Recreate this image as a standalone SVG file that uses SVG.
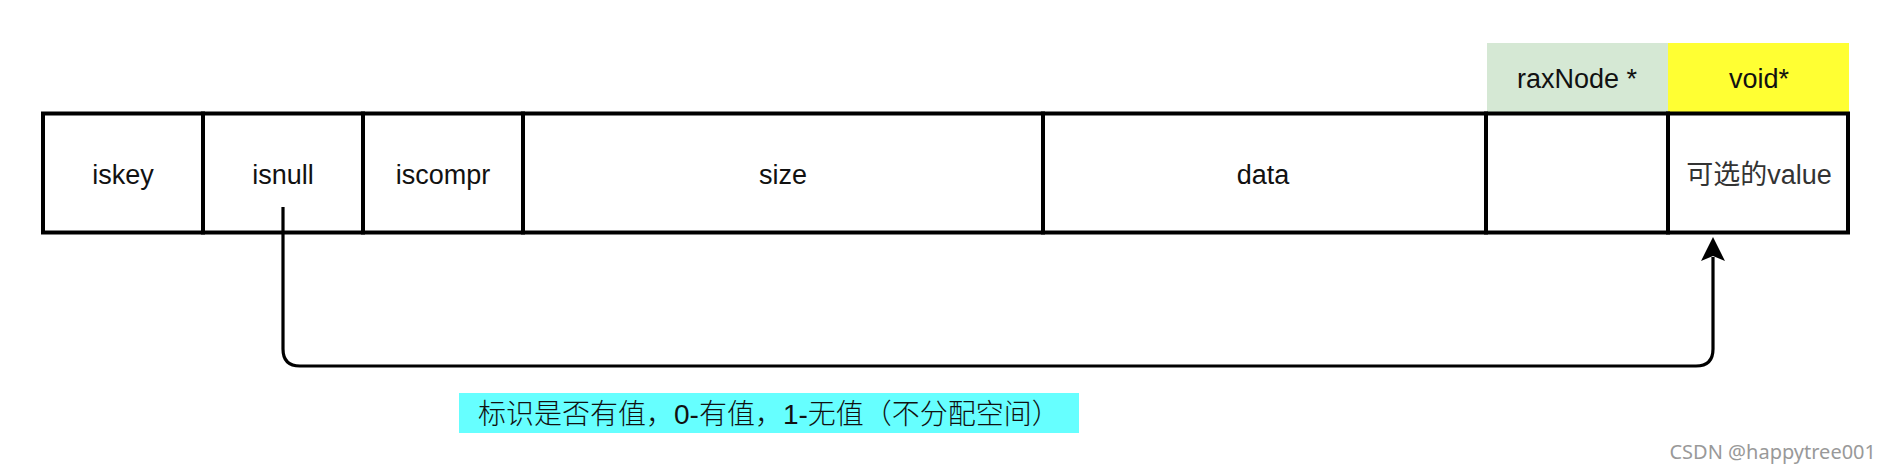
<svg xmlns="http://www.w3.org/2000/svg" width="1890" height="474" viewBox="0 0 1890 474">
  <style>
    .cell { fill: #ffffff; stroke: #000000; stroke-width: 4; }
    .lbl { font-family: "Liberation Sans", "Noto Sans CJK SC", sans-serif; font-size: 27px; fill: #111111; text-anchor: middle; }
    .conn { fill: none; stroke: #000000; stroke-width: 3.2; }
  </style>
  <defs>
    <marker id="arrow" viewBox="0 0 24 24" refX="4" refY="12" markerWidth="24" markerHeight="24" markerUnits="userSpaceOnUse" orient="auto">
      <path d="M0,0 L24,12 L0,24 L5,12 Z" fill="#000000"/>
    </marker>
  </defs>
  <rect x="0" y="0" width="1890" height="474" fill="#ffffff"/>

  <g id="header-raxnode">
    <rect x="1487" y="43" width="181" height="70" fill="#d5e8d4"/>
    <text class="lbl" x="1577" y="88">raxNode *</text>
  </g>
  <g id="header-void">
    <rect x="1668" y="43" width="181" height="70" fill="#ffff33"/>
    <text class="lbl" x="1759" y="88">void*</text>
  </g>

  <g id="cell-iskey">
    <rect class="cell" x="43" y="113.5" width="160" height="119"/>
    <text class="lbl" x="123" y="184">iskey</text>
  </g>
  <g id="cell-isnull">
    <rect class="cell" x="203" y="113.5" width="160" height="119"/>
    <text class="lbl" x="283" y="184">isnull</text>
  </g>
  <g id="cell-iscompr">
    <rect class="cell" x="363" y="113.5" width="160" height="119"/>
    <text class="lbl" x="443" y="184">iscompr</text>
  </g>
  <g id="cell-size">
    <rect class="cell" x="523" y="113.5" width="520" height="119"/>
    <text class="lbl" x="783" y="184">size</text>
  </g>
  <g id="cell-data">
    <rect class="cell" x="1043" y="113.5" width="443" height="119"/>
    <text class="lbl" x="1263" y="184">data</text>
  </g>
  <g id="cell-child">
    <rect class="cell" x="1486" y="113.5" width="182" height="119"/>
  </g>
  <g id="cell-value">
    <rect class="cell" x="1668" y="113.5" width="180" height="119"/>
    <text class="lbl" x="1759" y="184" style="fill:#333333">可选的value</text>
  </g>

  <g id="connectors">
    <path class="conn" d="M283,207 V349 Q283,366 300,366 H1696 Q1713,366 1713,349 V257" marker-end="url(#arrow)"/>
  </g>

  <g id="note">
    <rect x="459" y="393" width="620" height="40" fill="#66ffff"/>
    <text class="lbl" x="478" y="424" style="text-anchor:start; font-size:28px; font-weight:300">标识是否有值，0-有值，1-无值（不分配空间）</text>
  </g>

  <g id="watermark">
    <text x="1876" y="459" font-family="'Noto Sans', 'Open Sans', sans-serif" font-size="20" fill="#999999" text-anchor="end">CSDN @happytree001</text>
  </g>
</svg>
